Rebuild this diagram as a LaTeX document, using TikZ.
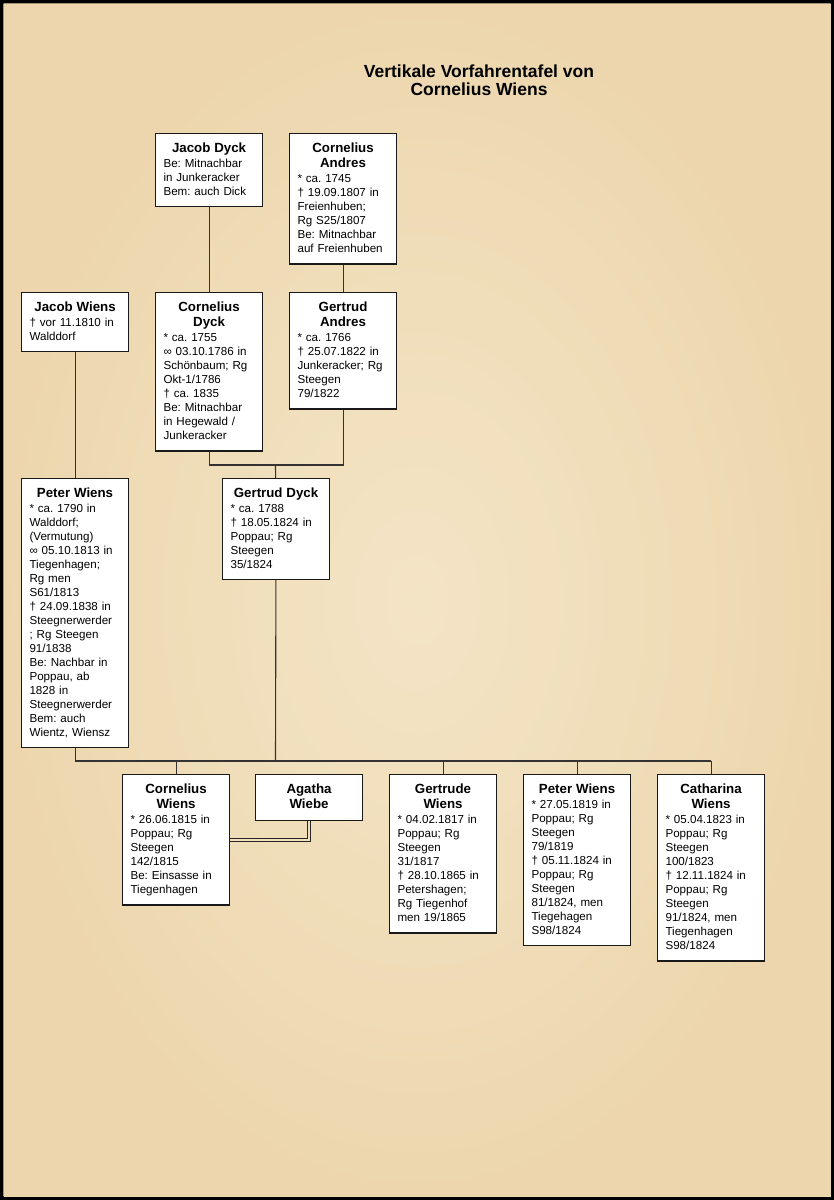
\documentclass[tikz,border=0pt]{standalone}
\usepackage{fontspec}
\setmainfont{Liberation Sans}
\setlength{\parindent}{0pt}
\frenchspacing
\definecolor{pergament}{HTML}{F2E0BD}
\definecolor{pergamenthell}{HTML}{F5E7CB}
\definecolor{pergamentrand}{HTML}{EBD3A8}
\newcommand{\bodyfont}{\fontsize{11.6}{14}\selectfont}
\newcommand{\namefont}{\fontsize{13.3}{15.3}\selectfont\bfseries}
\newcommand{\titlefont}{\fontsize{17.5}{18.5}\selectfont\bfseries}
\newcommand{\ahn}[2]{\rule{0pt}{19pt}{\centering\namefont #1\par}\vspace{0.6pt}#2\rule[-11.5pt]{0pt}{0pt}}

\begin{document}
\begin{tikzpicture}[x = 1pt, y = -1pt,
person/.style = {draw = black!90, line width = 1.1pt, fill = white, anchor = north west, text width = 91pt, inner xsep = 8pt, inner ysep = 0pt, align = left, font = \bodyfont},
linie/.style = {draw = black!80, line width = 1.1pt},
ehe/.style = {draw = black!85, line width = 1pt, double = pergament, double distance = 2pt},
titel/.style = {align = center, font = \titlefont, inner sep = 0pt}]
\useasboundingbox (0,0) rectangle (834,1200);
\fill[black] (0,0) rectangle (834,1200);
\fill[pergament] (3.5,3.5) rectangle (830.5,1196.5);
\shade[inner color = pergamenthell, outer color = pergamentrand, opacity = 0.7] (3.5,3.5) rectangle (830.5,1196.5);

\node [titel] (titel) at (479,80) {Vertikale Vorfahrentafel von\\Cornelius Wiens};

\node [person] (jdyck) at (155,133) {\ahn{Jacob Dyck}{Be: Mitnachbar\\in Junkeracker\\Bem: auch Dick}};
\node [person] (candres) at (289,133) {\ahn{Cornelius\\Andres}{* ca. 1745\\† 19.09.1807 in\\Freienhuben;\\Rg S25/1807\\Be: Mitnachbar\\auf Freienhuben}};
\node [person] (jwiens) at (21,292) {\ahn{Jacob Wiens}{† vor 11.1810 in\\Walddorf}};
\node [person] (cdyck) at (155,292) {\ahn{Cornelius\\Dyck}{* ca. 1755\\∞ 03.10.1786 in\\Schönbaum; Rg\\Okt-1/1786\\† ca. 1835\\Be: Mitnachbar\\in Hegewald /\\Junkeracker}};
\node [person] (gandres) at (289,292) {\ahn{Gertrud\\Andres}{* ca. 1766\\† 25.07.1822 in\\Junkeracker; Rg\\Steegen\\79/1822}};
\node [person] (pwiens) at (21,478) {\ahn{Peter Wiens}{* ca. 1790 in\\Walddorf;\\(Vermutung)\\∞ 05.10.1813 in\\Tiegenhagen;\\Rg men\\S61/1813\\† 24.09.1838 in\\Steegnerwerder\\; Rg Steegen\\91/1838\\Be: Nachbar in\\Poppau, ab\\1828 in\\Steegnerwerder\\Bem: auch\\Wientz, Wiensz}};
\node [person] (gdyck) at (222,478) {\ahn{Gertrud Dyck}{* ca. 1788\\† 18.05.1824 in\\Poppau; Rg\\Steegen\\35/1824}};

\node [person] (cwiens) at (122,774) {\ahn{Cornelius\\Wiens}{* 26.06.1815 in\\Poppau; Rg\\Steegen\\142/1815\\Be: Einsasse in\\Tiegenhagen}};
\node [person] (agatha) at (255,774) {\rule{0pt}{19pt}{\centering\namefont Agatha\\Wiebe\rule[-11.5pt]{0pt}{0pt}\par}};
\node [person] (gertrude) at (389,774) {\ahn{Gertrude\\Wiens}{* 04.02.1817 in\\Poppau; Rg\\Steegen\\31/1817\\† 28.10.1865 in\\Petershagen;\\Rg Tiegenhof\\men 19/1865}};
\node [person] (peterjr) at (523,774) {\ahn{Peter Wiens}{* 27.05.1819 in\\Poppau; Rg\\Steegen\\79/1819\\† 05.11.1824 in\\Poppau; Rg\\Steegen\\81/1824, men\\Tiegehagen\\S98/1824}};
\node [person] (catharina) at (657,774) {\ahn{Catharina\\Wiens}{* 05.04.1823 in\\Poppau; Rg\\Steegen\\100/1823\\† 12.11.1824 in\\Poppau; Rg\\Steegen\\91/1824, men\\Tiegenhagen\\S98/1824}};

\coordinate (eltern) at (275.5,465);
\coordinate (kids) at (275.5,761);

\draw [linie] (jdyck) -- (cdyck);
\draw [linie] (candres) -- (gandres);
\draw [linie] (jwiens) -- (pwiens);
\draw [linie] (cdyck.south) |- (eltern) -| (gandres.south);
\draw [linie] (eltern) -- (gdyck);
\draw [linie] (pwiens.south) |- (catharina.north |- kids);
\draw [linie] (gdyck) -- (kids);
\foreach \k in {cwiens, gertrude, peterjr, catharina}
  \draw [linie] (\k.north |- kids) -- (\k.north);
\draw [ehe] (agatha.south) |- (cwiens.east);
\end{tikzpicture}
\end{document}
